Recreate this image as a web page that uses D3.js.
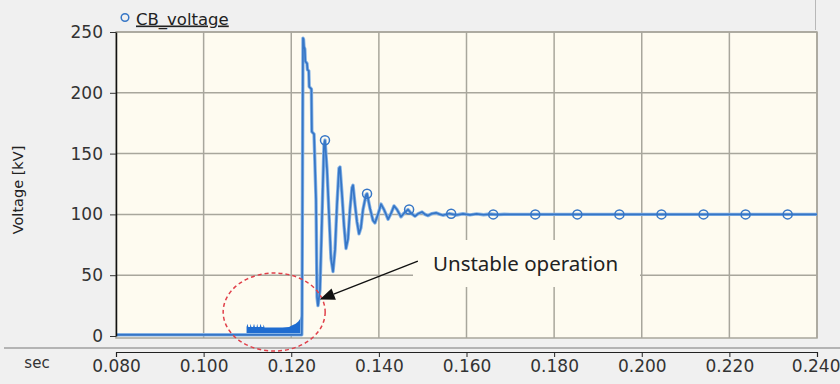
<!DOCTYPE html>
<html>
<head>
<meta charset="utf-8">
<script src="https://cdn.jsdelivr.net/npm/d3@7"></script>
<style>
  html, body { margin: 0; padding: 0; background: #f0f0f0; }
  svg { display: block; }
</style>
</head>
<body>
<svg id="chart" width="840" height="384"></svg>
<script>
// Circuit-breaker voltage trace (kV) against simulation time (s)
const xTicks = [0.080, 0.100, 0.120, 0.140, 0.160, 0.180, 0.200, 0.220, 0.240];
const yTicks = [0, 50, 100, 150, 200, 250];

// Main trace
const traceTime = [
  0.0800, 0.1224, 0.12246, 0.12268, 0.1228, 0.1229, 0.1231, 0.1232, 0.1236, 0.1237,
  0.1240, 0.1241, 0.1246, 0.1247, 0.1252, 0.12565, 0.12588, 0.1261, 0.12656, 0.1270,
  0.12747, 0.1277, 0.12816, 0.12862, 0.12907, 0.12953, 0.1300, 0.13044, 0.1309, 0.13113,
  0.13159, 0.13204, 0.1325, 0.13296, 0.1334, 0.13387, 0.1341, 0.13455, 0.1350, 0.13547,
  0.1359, 0.13638, 0.13706, 0.1373, 0.13797, 0.13866, 0.1391, 0.1398, 0.14049, 0.14117,
  0.1421, 0.1428, 0.14345, 0.14414, 0.14505, 0.14574, 0.14665, 0.14733, 0.14824, 0.14893,
  0.14985, 0.15053, 0.15122, 0.15213, 0.15304, 0.1538, 0.1546, 0.1561, 0.1577, 0.1592,
  0.1608, 0.1623, 0.1639, 0.1655, 0.1670, 0.1686, 0.1700, 0.2400
];
const traceVolt = [
  1, 1, 19, 245, 244, 238, 236, 226, 224, 219,
  218, 205, 203, 168, 166, 112, 32, 25, 38, 95,
  157, 161, 137, 100, 64, 53, 71, 108, 138, 139,
  116, 91, 72, 80, 104, 122, 124, 108, 94, 84,
  89, 104, 116, 117, 105, 95, 93, 100, 108.5, 104,
  96, 101, 107, 104, 98, 101, 104, 101, 98.5, 100.5,
  102, 100, 99, 100.7, 101.3, 100.2, 99.3, 100.7, 99.5, 100.5,
  99.6, 100.4, 99.7, 100.3, 99.8, 100.1, 100, 100
];

// Upper envelope of the fast switching ripple before breaker operation
const bandTime = [
  0.1098, 0.1098, 0.1100, 0.1102, 0.1106, 0.1107, 0.1109, 0.1113, 0.1115, 0.1117,
  0.1121, 0.1122, 0.1124, 0.1128, 0.1130, 0.1132, 0.1136, 0.1137, 0.1139, 0.1180,
  0.1195, 0.1200, 0.1210, 0.1216, 0.1220, 0.1223, 0.1225, 0.1225
];
const bandTop = [
  0, 7.5, 10, 7.5, 7.5, 10, 7.5, 7.5, 10, 7.5,
  7.5, 10, 7.5, 7.5, 10, 7.5, 7.5, 9.5, 7, 7,
  7.5, 8.5, 10, 12, 14, 17, 20, 0
];

// Series symbols along the trace
const markerTime = [0.1277, 0.1373, 0.1469, 0.1565, 0.1661, 0.1757, 0.1853, 0.1949, 0.2045, 0.2141, 0.2237, 0.2333];
const markerVolt = [161, 117, 104, 100.5, 100, 100, 100, 100, 100, 100, 100, 100];

const seriesName = "CB_voltage";
const yTitle = "Voltage [kV]";
const xUnit = "sec";
const noteText = "Unstable operation";

const W = 840, H = 384;
const plot = { left: 116, right: 817, top: 32, bottom: 336 };
const lineBlue = "#3676c6";
const haloBlue = "#86b3e6";
const fillBlue = "#1f6cd0";
const gridCol = "#a8a69c";
const plotBg = "#fefbf0";

const svg = d3.select("#chart");

const x = d3.scaleLinear().domain([0.08, 0.24]).range([plot.left, plot.right]);
const y = d3.scaleLinear().domain([0, 250]).range([plot.bottom, plot.top]);

// Legend strip
svg.append("line")
  .attr("x1", 815.5).attr("x2", 815.5).attr("y1", 0).attr("y2", 30)
  .attr("stroke", "#b8b8b8").attr("stroke-width", 1);
svg.append("circle")
  .attr("cx", 125).attr("cy", 17.5).attr("r", 3.8)
  .attr("fill", "none").attr("stroke", lineBlue).attr("stroke-width", 1.5);
svg.append("text")
  .attr("x", 136).attr("y", 24.5)
  .attr("font-family", "DejaVu Sans").attr("font-size", 16.5)
  .attr("fill", "#222").attr("text-decoration", "underline")
  .text(seriesName);

// Plot background
svg.append("rect")
  .attr("x", plot.left).attr("y", plot.top)
  .attr("width", plot.right - plot.left).attr("height", plot.bottom - plot.top + 2)
  .attr("fill", plotBg).attr("stroke", gridCol).attr("stroke-width", 1.5);

// Grid
const grid = svg.append("g");
grid.selectAll("line.v").data(xTicks.slice(1)).join("line")
  .attr("x1", d => x(d)).attr("x2", d => x(d))
  .attr("y1", plot.top).attr("y2", plot.bottom + 2)
  .attr("stroke", gridCol).attr("stroke-width", 1.5);
grid.selectAll("line.h").data(yTicks.slice(1)).join("line")
  .attr("x1", plot.left).attr("x2", plot.right)
  .attr("y1", d => y(d)).attr("y2", d => y(d))
  .attr("stroke", gridCol).attr("stroke-width", 1.5);

// Label panel for the note (hides grid under the text)
svg.append("rect")
  .attr("x", 413).attr("y", 240).attr("width", 227).attr("height", 47)
  .attr("fill", plotBg);

// Ripple band
const band = bandTime.map((t, i) => [t, bandTop[i]]);
svg.append("path")
  .datum(band)
  .attr("d", d3.area().x(d => x(d[0])).y0(y(0)).y1(d => y(d[1])))
  .attr("fill", fillBlue);

// Trace: soft halo under a darker core line
const trace = traceTime.map((t, i) => [t, traceVolt[i]]);
const traceLine = d3.line().x(d => x(d[0])).y(d => y(d[1]));
svg.append("path")
  .datum(trace)
  .attr("d", traceLine)
  .attr("fill", "none").attr("stroke", haloBlue).attr("stroke-width", 3.4)
  .attr("stroke-linejoin", "round");
svg.append("path")
  .datum(trace)
  .attr("d", traceLine)
  .attr("fill", "none").attr("stroke", lineBlue).attr("stroke-width", 1.7)
  .attr("stroke-linejoin", "round");

// Symbols
svg.selectAll("circle.mk").data(markerTime.map((t, i) => [t, markerVolt[i]])).join("circle")
  .attr("class", "mk")
  .attr("cx", d => x(d[0])).attr("cy", d => y(d[1])).attr("r", 4.5)
  .attr("fill", "none").attr("stroke", lineBlue).attr("stroke-width", 1.5);

// Y axis
const yAxis = svg.append("g")
  .attr("transform", `translate(${plot.left},0)`)
  .call(d3.axisLeft(y).tickValues(yTicks).tickSize(6).tickSizeOuter(0).tickPadding(7));
yAxis.select(".domain").attr("stroke", "#111").attr("stroke-width", 1.5);
yAxis.selectAll(".tick line").attr("stroke", "#333");
yAxis.selectAll(".tick text")
  .attr("font-family", "DejaVu Sans").attr("font-size", 17).attr("fill", "#333");

svg.append("text")
  .attr("transform", `translate(23,190) rotate(-90)`)
  .attr("text-anchor", "middle")
  .attr("font-family", "DejaVu Sans").attr("font-size", 14.5).attr("fill", "#222")
  .text(yTitle);

// Divider above the time axis
svg.append("line")
  .attr("x1", 4).attr("x2", W).attr("y1", 348).attr("y2", 348)
  .attr("stroke", "#a0a0a0").attr("stroke-width", 1.5);

// X axis
const xAxis = svg.append("g")
  .attr("transform", "translate(0,352)")
  .call(d3.axisBottom(x).tickValues(xTicks).tickFormat(d3.format(".3f")).tickSize(5).tickPadding(3));
xAxis.select(".domain").attr("stroke", "#222").attr("stroke-width", 1.2);
xAxis.selectAll(".tick line").attr("stroke", "#222");
xAxis.selectAll(".tick text")
  .attr("font-family", "DejaVu Sans").attr("font-size", 17).attr("fill", "#333");
// keep the last label inside the window
xAxis.selectAll(".tick text").filter(d => d === xTicks[xTicks.length - 1])
  .attr("text-anchor", "end").attr("dx", 23);

svg.append("text")
  .attr("x", 37).attr("y", 368).attr("text-anchor", "middle")
  .attr("font-family", "DejaVu Sans").attr("font-size", 15).attr("fill", "#333")
  .text(xUnit);

// Annotation: dashed ellipse around the ripple, arrow and note
svg.append("ellipse")
  .attr("cx", x(0.1161)).attr("cy", y(19.7)).attr("rx", 51).attr("ry", 39)
  .attr("fill", "none").attr("stroke", "#e0404a").attr("stroke-width", 1.5)
  .attr("stroke-dasharray", "4,3");

const tail = [x(0.1489), y(61.5)];
const tip = [x(0.1265), y(30)];
const ang = Math.atan2(tip[1] - tail[1], tip[0] - tail[0]);
const hl = 15, hw = 6;
const base = [tip[0] - hl * Math.cos(ang), tip[1] - hl * Math.sin(ang)];
svg.append("line")
  .attr("x1", tail[0]).attr("y1", tail[1]).attr("x2", base[0]).attr("y2", base[1])
  .attr("stroke", "#111").attr("stroke-width", 1.4);
svg.append("path")
  .attr("d", d3.line()([
    tip,
    [base[0] + hw * Math.sin(ang), base[1] - hw * Math.cos(ang)],
    [base[0] - hw * Math.sin(ang), base[1] + hw * Math.cos(ang)]
  ]) + "Z")
  .attr("fill", "#111");

svg.append("text")
  .attr("x", 433).attr("y", 271)
  .attr("font-family", "Noto Sans").attr("font-size", 20.5).attr("fill", "#222")
  .text(noteText);
</script>
</body>
</html>
